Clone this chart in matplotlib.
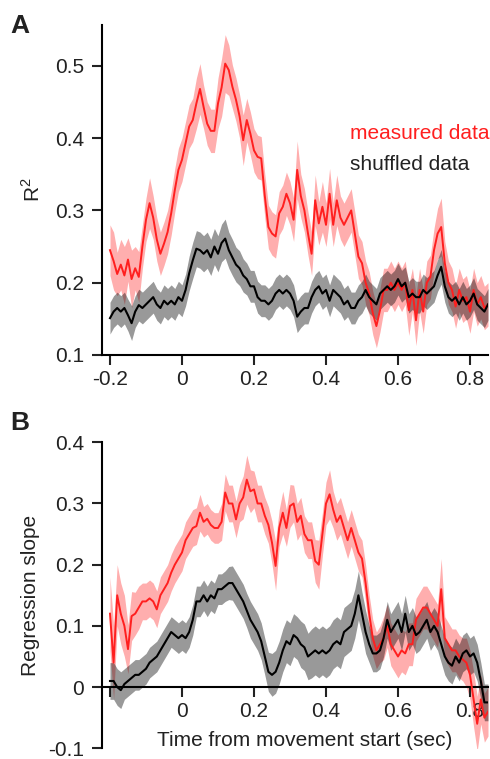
import numpy as np
import matplotlib
matplotlib.use("Agg")
import matplotlib.pyplot as plt

plt.rcParams['font.family'] = ['Liberation Sans', 'DejaVu Sans']
plt.rcParams['mathtext.fontset'] = 'custom'
plt.rcParams['mathtext.rm'] = 'Liberation Sans'

# time axis, 10 ms bins from -0.20 to 0.85 s
time = [round(-0.20 + 0.01 * i, 2) for i in range(106)]

# Panel A: R^2
r2_measured = [
    0.245, 0.23, 0.212, 0.225, 0.21, 0.232, 0.205, 0.22, 0.208, 0.25,
    0.287, 0.31, 0.29, 0.26, 0.24, 0.254, 0.27, 0.296, 0.328, 0.356,
    0.37, 0.393, 0.416, 0.425, 0.448, 0.468, 0.443, 0.42, 0.41, 0.41,
    0.448, 0.47, 0.503, 0.494, 0.471, 0.453, 0.43, 0.397, 0.425, 0.406,
    0.383, 0.374, 0.372, 0.32, 0.277, 0.268, 0.264, 0.296, 0.305, 0.323,
    0.31, 0.287, 0.356, 0.32, 0.30, 0.268, 0.24, 0.314, 0.282, 0.305,
    0.28, 0.323, 0.28, 0.314, 0.29, 0.28, 0.29, 0.30, 0.268, 0.236,
    0.227, 0.20, 0.185, 0.158, 0.14, 0.162, 0.19, 0.19, 0.20, 0.19,
    0.20, 0.19, 0.20, 0.162, 0.19, 0.148, 0.19, 0.16, 0.20, 0.208,
    0.245, 0.268, 0.277, 0.227, 0.20, 0.19, 0.167, 0.19, 0.175, 0.18,
    0.16, 0.19, 0.17, 0.18, 0.165, 0.17]
r2_measured_err = [
    0.035, 0.04, 0.03, 0.035, 0.04, 0.03, 0.04, 0.03, 0.035, 0.03,
    0.03, 0.035, 0.03, 0.03, 0.03, 0.03, 0.03, 0.03, 0.03, 0.03,
    0.03, 0.03, 0.03, 0.03, 0.035, 0.035, 0.03, 0.03, 0.03, 0.03,
    0.035, 0.04, 0.04, 0.035, 0.03, 0.03, 0.03, 0.035, 0.03, 0.03,
    0.03, 0.03, 0.03, 0.03, 0.03, 0.03, 0.03, 0.03, 0.03, 0.03,
    0.03, 0.03, 0.04, 0.03, 0.03, 0.03, 0.03, 0.035, 0.03, 0.035,
    0.03, 0.035, 0.03, 0.035, 0.03, 0.03, 0.03, 0.03, 0.03, 0.03,
    0.03, 0.03, 0.03, 0.03, 0.03, 0.03, 0.03, 0.03, 0.03, 0.03,
    0.03, 0.03, 0.03, 0.035, 0.03, 0.035, 0.03, 0.03, 0.03, 0.03,
    0.03, 0.035, 0.04, 0.03, 0.03, 0.03, 0.03, 0.03, 0.03, 0.03,
    0.03, 0.03, 0.03, 0.03, 0.03, 0.03]
r2_shuffled = [
    0.151, 0.16, 0.165, 0.16, 0.165, 0.155, 0.144, 0.16, 0.169, 0.165,
    0.17, 0.175, 0.18, 0.17, 0.165, 0.175, 0.17, 0.175, 0.17, 0.18,
    0.175, 0.19, 0.213, 0.231, 0.247, 0.245, 0.24, 0.245, 0.235, 0.25,
    0.24, 0.255, 0.261, 0.245, 0.235, 0.225, 0.22, 0.21, 0.205, 0.195,
    0.195, 0.18, 0.175, 0.175, 0.17, 0.175, 0.185, 0.19, 0.185, 0.19,
    0.185, 0.175, 0.153, 0.16, 0.165, 0.165, 0.18, 0.19, 0.195, 0.185,
    0.19, 0.175, 0.19, 0.185, 0.18, 0.17, 0.175, 0.165, 0.165, 0.175,
    0.18, 0.19, 0.18, 0.175, 0.17, 0.185, 0.19, 0.195, 0.19, 0.195,
    0.205, 0.195, 0.20, 0.18, 0.185, 0.18, 0.18, 0.19, 0.185, 0.19,
    0.195, 0.21, 0.222, 0.195, 0.18, 0.175, 0.18, 0.17, 0.18, 0.17,
    0.175, 0.185, 0.17, 0.165, 0.16, 0.17]
r2_shuffled_err = [
    0.022, 0.022, 0.022, 0.022, 0.022, 0.022, 0.024, 0.022, 0.022, 0.022,
    0.022, 0.022, 0.022, 0.022, 0.022, 0.022, 0.022, 0.022, 0.022, 0.022,
    0.022, 0.022, 0.024, 0.025, 0.025, 0.025, 0.025, 0.025, 0.025, 0.025,
    0.025, 0.026, 0.027, 0.025, 0.025, 0.024, 0.024, 0.023, 0.022, 0.022,
    0.022, 0.022, 0.022, 0.022, 0.022, 0.022, 0.022, 0.022, 0.022, 0.022,
    0.022, 0.022, 0.022, 0.022, 0.022, 0.022, 0.022, 0.022, 0.022, 0.022,
    0.022, 0.022, 0.022, 0.022, 0.022, 0.022, 0.022, 0.022, 0.022, 0.022,
    0.022, 0.022, 0.022, 0.022, 0.022, 0.022, 0.022, 0.022, 0.022, 0.022,
    0.022, 0.022, 0.022, 0.022, 0.022, 0.022, 0.022, 0.022, 0.022, 0.022,
    0.022, 0.022, 0.024, 0.022, 0.022, 0.022, 0.022, 0.022, 0.022, 0.022,
    0.022, 0.022, 0.022, 0.022, 0.022, 0.022]

# Panel B: regression slope
slope_measured = [
    0.12, 0.04, 0.15, 0.12, 0.10, 0.062, 0.116, 0.12, 0.13, 0.14,
    0.14, 0.145, 0.14, 0.127, 0.15, 0.16, 0.17, 0.187, 0.20, 0.21,
    0.22, 0.24, 0.25, 0.26, 0.263, 0.285, 0.27, 0.275, 0.265, 0.26,
    0.26, 0.27, 0.318, 0.30, 0.30, 0.274, 0.30, 0.31, 0.339, 0.32,
    0.323, 0.30, 0.30, 0.28, 0.265, 0.236, 0.198, 0.26, 0.285, 0.26,
    0.296, 0.30, 0.27, 0.28, 0.25, 0.24, 0.24, 0.206, 0.20, 0.25,
    0.30, 0.315, 0.29, 0.27, 0.28, 0.26, 0.24, 0.26, 0.24, 0.22,
    0.21, 0.17, 0.12, 0.08, 0.06, 0.07, 0.08, 0.10, 0.07, 0.06,
    0.05, 0.06, 0.055, 0.07, 0.07, 0.11, 0.12, 0.13, 0.13, 0.12,
    0.11, 0.10, 0.16, 0.08, 0.07, 0.06, 0.06, 0.05, 0.045, 0.04,
    0.02, -0.02, -0.06, -0.02, -0.05, -0.04]
slope_measured_err = [
    0.06, 0.06, 0.05, 0.05, 0.05, 0.04, 0.04, 0.035, 0.035, 0.03,
    0.03, 0.03, 0.03, 0.03, 0.03, 0.03, 0.03, 0.03, 0.03, 0.03,
    0.03, 0.03, 0.03, 0.03, 0.03, 0.03, 0.025, 0.025, 0.025, 0.025,
    0.025, 0.03, 0.03, 0.03, 0.03, 0.03, 0.03, 0.035, 0.04, 0.035,
    0.03, 0.03, 0.03, 0.03, 0.03, 0.035, 0.04, 0.03, 0.035, 0.03,
    0.035, 0.03, 0.03, 0.03, 0.03, 0.03, 0.03, 0.035, 0.04, 0.035,
    0.035, 0.04, 0.03, 0.03, 0.03, 0.03, 0.03, 0.03, 0.03, 0.03,
    0.03, 0.03, 0.03, 0.03, 0.03, 0.03, 0.035, 0.035, 0.035, 0.035,
    0.035, 0.035, 0.035, 0.035, 0.035, 0.035, 0.035, 0.035, 0.035, 0.035,
    0.035, 0.035, 0.05, 0.035, 0.035, 0.035, 0.035, 0.035, 0.035, 0.04,
    0.04, 0.045, 0.045, 0.04, 0.04, 0.04]
slope_shuffled = [
    0.01, 0.01, 0.0, -0.005, 0.005, 0.01, 0.015, 0.02, 0.02, 0.025,
    0.03, 0.04, 0.045, 0.05, 0.06, 0.07, 0.08, 0.09, 0.085, 0.08,
    0.085, 0.08, 0.09, 0.11, 0.14, 0.14, 0.15, 0.14, 0.15, 0.145,
    0.16, 0.16, 0.165, 0.17, 0.17, 0.16, 0.15, 0.14, 0.125, 0.11,
    0.10, 0.09, 0.075, 0.05, 0.025, 0.02, 0.025, 0.04, 0.06, 0.075,
    0.07, 0.085, 0.08, 0.07, 0.065, 0.05, 0.055, 0.06, 0.055, 0.06,
    0.055, 0.06, 0.07, 0.075, 0.07, 0.09, 0.095, 0.10, 0.12, 0.15,
    0.12, 0.09, 0.07, 0.055, 0.055, 0.06, 0.08, 0.11, 0.09, 0.10,
    0.11, 0.09, 0.12, 0.09, 0.10, 0.085, 0.09, 0.10, 0.11, 0.09,
    0.10, 0.09, 0.07, 0.05, 0.04, 0.035, 0.05, 0.04, 0.055, 0.06,
    0.05, 0.055, 0.04, 0.01, -0.025, -0.025]
slope_shuffled_err = [
    0.03, 0.03, 0.03, 0.03, 0.025, 0.025, 0.025, 0.025, 0.025, 0.025,
    0.025, 0.025, 0.025, 0.025, 0.025, 0.025, 0.025, 0.025, 0.025, 0.025,
    0.025, 0.025, 0.025, 0.025, 0.025, 0.025, 0.025, 0.025, 0.025, 0.025,
    0.025, 0.025, 0.025, 0.027, 0.028, 0.028, 0.028, 0.028, 0.028, 0.03,
    0.03, 0.03, 0.03, 0.03, 0.032, 0.035, 0.035, 0.035, 0.035, 0.035,
    0.035, 0.035, 0.035, 0.038, 0.038, 0.038, 0.04, 0.04, 0.04, 0.04,
    0.04, 0.04, 0.04, 0.04, 0.04, 0.04, 0.04, 0.04, 0.04, 0.04,
    0.035, 0.035, 0.03, 0.03, 0.03, 0.03, 0.03, 0.03, 0.03, 0.03,
    0.03, 0.03, 0.03, 0.03, 0.03, 0.03, 0.03, 0.03, 0.03, 0.03,
    0.03, 0.03, 0.03, 0.03, 0.03, 0.03, 0.03, 0.03, 0.03, 0.03,
    0.03, 0.03, 0.03, 0.03, 0.03, 0.03]

xticks_a = [-0.2, 0, 0.2, 0.4, 0.6, 0.8]
xticklabels_a = ['-0.2', '0', '0.2', '0.4', '0.6', '0.8']
xticklabels_b = ['', '0', '0.2', '0.4', '0.6', '0.8']
yticks_a = [0.1, 0.2, 0.3, 0.4, 0.5]
yticklabels_a = ['0.1', '0.2', '0.3', '0.4', '0.5']
yticks_b = [-0.1, 0, 0.1, 0.2, 0.3, 0.4]
yticklabels_b = ['-0.1', '0', '0.1', '0.2', '0.3', '0.4']

RED = '#ff1f1f'
TXT = '#222222'
FS = 15
W, H = 490, 759
fig = plt.figure(figsize=(W / 100, H / 100), dpi=100)

t = np.array(time)

def draw(ax, red, red_err, blk, blk_err):
    red = np.array(red); red_err = np.array(red_err)
    blk = np.array(blk); blk_err = np.array(blk_err)
    ax.fill_between(t, red - red_err, red + red_err, color='#ff2a2a', alpha=0.38, lw=0, zorder=1)
    ax.fill_between(t, blk - blk_err, blk + blk_err, color='black', alpha=0.40, lw=0, zorder=2)
    ax.plot(t, red, color=RED, lw=1.4, zorder=3)
    ax.plot(t, blk, color='black', lw=1.5, zorder=4)
    for s in ['top', 'right']:
        ax.spines[s].set_visible(False)
    for s in ['left', 'bottom']:
        ax.spines[s].set_linewidth(1.5)
    ax.tick_params(direction='out', length=7, width=1.5, labelsize=FS, colors=TXT)
    ax.tick_params(axis='y', pad=6)
    ax.tick_params(axis='x', pad=4)
    ax.set_xlim(-0.2222, 0.85)

# Panel A
axA = fig.add_axes([102 / W, 1 - 355 / H, 386 / W, 330 / H])
draw(axA, r2_measured, r2_measured_err, r2_shuffled, r2_shuffled_err)
axA.set_ylim(0.1, 0.5564)
axA.set_xticks(xticks_a)
axA.set_xticklabels(xticklabels_a)
axA.set_yticks(yticks_a)
axA.set_yticklabels(yticklabels_a)
axA.set_ylabel(r'R$^{\mathregular{2}}$', fontsize=FS, labelpad=8, color=TXT)
axA.text(0.4667, 0.399, 'measured data', color=RED, fontsize=FS, va='baseline', ha='left')
axA.text(0.4667, 0.356, 'shuffled data', color=TXT, fontsize=FS, va='baseline', ha='left')

# Panel B
axB = fig.add_axes([102 / W, 1 - 748.3 / H, 386 / W, 306 / H])
draw(axB, slope_measured, slope_measured_err, slope_shuffled, slope_shuffled_err)
axB.set_ylim(-0.1, 0.4)
axB.spines['bottom'].set_position(('data', 0))
axB.set_xticks(xticks_a)
axB.set_xticklabels(xticklabels_b)
axB.set_yticks(yticks_b)
axB.set_yticklabels(yticklabels_b)
axB.set_ylabel('Regression slope', fontsize=FS, labelpad=6, color=TXT)
axB.set_xlabel('Time from movement start (sec)', fontsize=FS, color=TXT)
axB.xaxis.set_label_coords(0.526, 0.055)

fig.text(10 / W, 1 - 33 / H, 'A', fontsize=19, fontweight='bold', color=TXT, va='baseline')
fig.text(10 / W, 1 - 430 / H, 'B', fontsize=19, fontweight='bold', color=TXT, va='baseline')

fig.savefig('out.png', dpi=100)
